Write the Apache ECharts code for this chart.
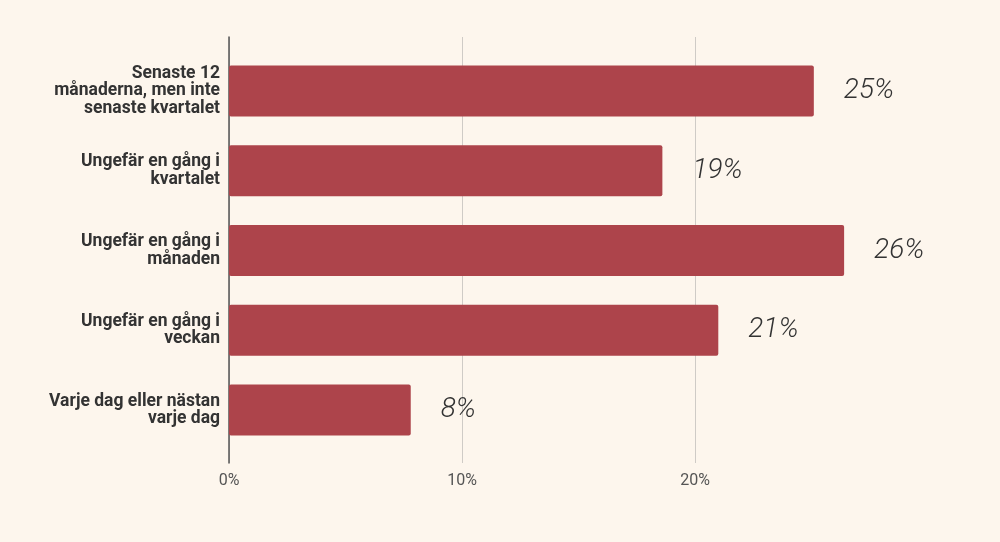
<!DOCTYPE html>
<html><head><meta charset="utf-8">
<script src="https://cdn.jsdelivr.net/npm/echarts@6/dist/echarts.min.js"></script>
<style>html,body{margin:0;padding:0;background:#fdf6ed;}#c{width:1000px;height:542px;}</style>
</head><body><div id="c"></div>
<script>
const categories = [
  "Senaste 12\nmånaderna, men inte\nsenaste kvartalet",
  "Ungefär en gång i\nkvartalet",
  "Ungefär en gång i\nmånaden",
  "Ungefär en gång i\nveckan",
  "Varje dag eller nästan\nvarje dag"
];
const values = [25.1, 18.6, 26.4, 21.0, 7.8];
const xMax = 30;
const xInterval = 10;

const chart = echarts.init(document.getElementById('c'), null, {renderer: 'canvas'});
const font = 'Roboto';
chart.setOption({
  backgroundColor: '#fdf6ed',
  animation: false,
  grid: [
    {left: 229, top: 51, height: 399, width: 23.3 * xMax},
    {left: 229, top: 37, bottom: 79, width: 23.3 * xMax}
  ],
  xAxis: [
    {gridIndex: 0, type: 'value', min: 0, max: xMax, interval: xInterval, show: false},
    {gridIndex: 1, type: 'value', min: 0, max: xMax, interval: xInterval,
     axisLine: {show: false}, axisTick: {show: false},
     splitLine: {show: true, showMaxLine: false, lineStyle: {color: '#cfcbc6', width: 1}},
     axisLabel: {formatter: v => v + '%', color: '#555', fontFamily: font, fontSize: 16, margin: 10, showMaxLabel: false}}
  ],
  yAxis: [
    {gridIndex: 0, type: 'category', data: categories, inverse: true,
     axisLine: {show: false}, axisTick: {show: false},
     axisLabel: {color: '#333', fontFamily: font, fontWeight: 'bold', fontSize: 17.5, lineHeight: 17.5, margin: 9, align: 'right'}},
    {gridIndex: 1, type: 'value', min: 0, max: 1,
     axisLine: {show: true, lineStyle: {color: '#555', width: 1.5}},
     axisTick: {show: false}, axisLabel: {show: false}, splitLine: {show: false}}
  ],
  series: [
    {type: 'bar', xAxisIndex: 0, yAxisIndex: 0, data: values, barWidth: 51,
     itemStyle: {color: '#ad444b', borderRadius: 2},
     label: {show: true, position: 'right', distance: 30,
       formatter: p => Math.round(p.value) + '%',
       color: '#333', fontFamily: font, fontStyle: 'italic', fontWeight: 300, fontSize: 28}},
    {type: 'scatter', xAxisIndex: 1, yAxisIndex: 1, data: []}
  ]
});
</script></body></html>
